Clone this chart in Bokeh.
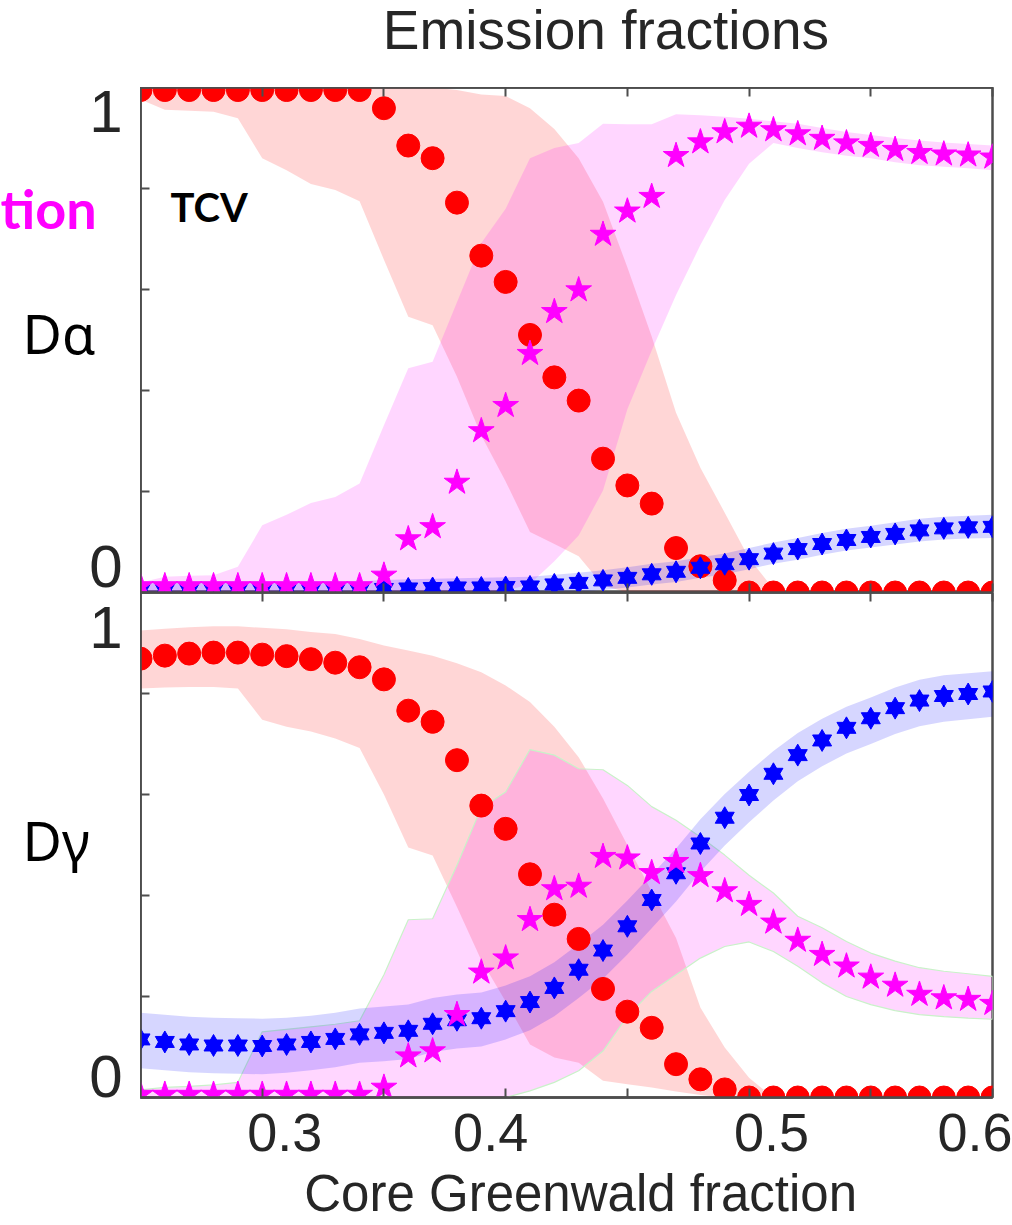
from bokeh.plotting import figure
from bokeh.layouts import column, row
from bokeh.models import Range1d, FixedTicker, LinearAxis, Label
from bokeh.core.properties import value
from bokeh.embed import file_html
from bokeh.resources import INLINE

# ---------------------------------------------------------------- data
# Core Greenwald fraction of each scan point
greenwald = [0.25, 0.26, 0.27, 0.28, 0.29, 0.30, 0.31, 0.32, 0.33, 0.34,
             0.35, 0.36, 0.37, 0.38, 0.39, 0.40, 0.41, 0.42, 0.43, 0.44,
             0.45, 0.46, 0.47, 0.48, 0.49, 0.50, 0.51, 0.52, 0.53, 0.54,
             0.55, 0.56, 0.57, 0.58, 0.59, 0.60]

# D-alpha emission fractions (red = circles, magenta = pentagrams, blue = hexagrams)
da_red = [0.995, 0.995, 0.995, 0.995, 0.995, 0.995, 0.995, 0.995, 0.995, 0.995,
          0.959, 0.885, 0.860, 0.772, 0.667, 0.615, 0.510, 0.426, 0.380, 0.265,
          0.212, 0.176, 0.088, 0.052, 0.024, 0.0, 0.0, 0.0, 0.0, 0.0,
          0.0, 0.0, 0.0, 0.0, 0.0, 0.0]
da_red_lo = [0.976, 0.956, 0.954, 0.952, 0.939, 0.860, 0.836, 0.809, 0.797, 0.775,
             0.659, 0.546, 0.529, 0.427, 0.311, 0.220, 0.120, 0.096, 0.072, 0.014,
             0.0, 0.0, 0.0, 0.0, 0.0, 0.0, 0.0, 0.0, 0.0, 0.0,
             0.0, 0.0, 0.0, 0.0, 0.0, 0.0]
da_red_hi = [1.0, 1.0, 1.0, 1.0, 1.0, 1.0, 1.0, 1.0, 1.0, 1.0,
             1.0, 1.0, 1.0, 0.995, 0.986, 0.983, 0.959, 0.918, 0.860, 0.774,
             0.644, 0.507, 0.356, 0.247, 0.158, 0.068, 0.007, 0.0, 0.0, 0.0,
             0.0, 0.0, 0.0, 0.0, 0.0, 0.0]

da_mag = [0.013, 0.013, 0.013, 0.013, 0.013, 0.013, 0.013, 0.013, 0.013, 0.013,
          0.034, 0.106, 0.130, 0.218, 0.320, 0.370, 0.473, 0.556, 0.599, 0.709,
          0.755, 0.784, 0.865, 0.892, 0.912, 0.923, 0.916, 0.908, 0.899, 0.890,
          0.885, 0.877, 0.871, 0.868, 0.866, 0.862]
da_mag_lo = [0.0, 0.0, 0.0, 0.0, 0.0, 0.0, 0.0, 0.0, 0.0, 0.0,
             0.0, 0.0, 0.0, 0.0, 0.0, 0.003, 0.017, 0.062, 0.113, 0.202,
             0.363, 0.479, 0.589, 0.688, 0.777, 0.849, 0.890, 0.880, 0.872, 0.865,
             0.860, 0.852, 0.846, 0.843, 0.840, 0.836]
da_mag_hi = [0.020, 0.031, 0.033, 0.034, 0.051, 0.133, 0.154, 0.177, 0.189, 0.216,
             0.331, 0.444, 0.457, 0.575, 0.692, 0.760, 0.860, 0.880, 0.890, 0.928,
             0.927, 0.927, 0.947, 0.945, 0.942, 0.938, 0.933, 0.928, 0.920, 0.912,
             0.906, 0.900, 0.895, 0.891, 0.888, 0.885]

da_blue = [0.005, 0.005, 0.005, 0.005, 0.005, 0.005, 0.005, 0.005, 0.005, 0.005,
           0.007, 0.008, 0.009, 0.010, 0.010, 0.011, 0.012, 0.016, 0.019, 0.024,
           0.029, 0.036, 0.041, 0.049, 0.056, 0.066, 0.077, 0.086, 0.096, 0.104,
           0.110, 0.116, 0.123, 0.127, 0.129, 0.130]
da_blue_lo = [0.0, 0.0, 0.0, 0.0, 0.0, 0.0, 0.0, 0.0, 0.0, 0.0,
              0.0, 0.0, 0.0, 0.0, 0.0, 0.0, 0.0, 0.0, 0.001, 0.005,
              0.010, 0.016, 0.021, 0.029, 0.036, 0.046, 0.057, 0.065, 0.075, 0.083,
              0.089, 0.095, 0.101, 0.105, 0.107, 0.108]
da_blue_hi = [0.022, 0.022, 0.022, 0.022, 0.022, 0.022, 0.022, 0.022, 0.022, 0.022,
              0.025, 0.026, 0.027, 0.028, 0.029, 0.030, 0.031, 0.035, 0.039, 0.044,
              0.050, 0.057, 0.062, 0.070, 0.077, 0.088, 0.099, 0.108, 0.118, 0.126,
              0.132, 0.139, 0.146, 0.150, 0.152, 0.154]

# D-gamma emission fractions
dg_red = [0.869, 0.875, 0.879, 0.881, 0.881, 0.877, 0.874, 0.868, 0.861, 0.852,
          0.828, 0.766, 0.744, 0.668, 0.578, 0.532, 0.442, 0.362, 0.314, 0.215,
          0.170, 0.138, 0.066, 0.036, 0.016, 0.0, 0.0, 0.0, 0.0, 0.0,
          0.0, 0.0, 0.0, 0.0, 0.0, 0.0]
dg_red_lo = [0.810, 0.812, 0.813, 0.813, 0.810, 0.748, 0.734, 0.725, 0.711, 0.692,
             0.600, 0.495, 0.479, 0.377, 0.272, 0.190, 0.105, 0.079, 0.069, 0.033,
             0.026, 0.020, 0.012, 0.005, 0.0, 0.0, 0.0, 0.0, 0.0, 0.0,
             0.0, 0.0, 0.0, 0.0, 0.0, 0.0]
dg_red_hi = [0.925, 0.928, 0.931, 0.933, 0.933, 0.930, 0.927, 0.922, 0.918, 0.908,
             0.895, 0.885, 0.875, 0.860, 0.842, 0.816, 0.783, 0.734, 0.674, 0.592,
             0.500, 0.408, 0.316, 0.178, 0.099, 0.039, 0.0, 0.0, 0.0, 0.0,
             0.0, 0.0, 0.0, 0.0, 0.0, 0.0]

dg_mag = [0.006, 0.006, 0.006, 0.006, 0.006, 0.006, 0.006, 0.006, 0.006, 0.006,
          0.020, 0.082, 0.092, 0.164, 0.248, 0.276, 0.352, 0.413, 0.418, 0.477,
          0.474, 0.445, 0.467, 0.439, 0.409, 0.382, 0.347, 0.311, 0.283, 0.260,
          0.238, 0.222, 0.204, 0.197, 0.194, 0.186]
dg_mag_lo = [0.0, 0.0, 0.0, 0.0, 0.0, 0.0, 0.0, 0.0, 0.0, 0.0,
             0.0, 0.0, 0.0, 0.0, 0.0, 0.0, 0.013, 0.030, 0.053, 0.092,
             0.161, 0.210, 0.243, 0.276, 0.299, 0.308, 0.289, 0.260, 0.227, 0.200,
             0.184, 0.172, 0.164, 0.160, 0.157, 0.155]
dg_mag_hi = [0.015, 0.020, 0.022, 0.025, 0.030, 0.130, 0.135, 0.140, 0.145, 0.152,
             0.243, 0.352, 0.354, 0.460, 0.574, 0.605, 0.689, 0.678, 0.651, 0.649,
             0.618, 0.576, 0.549, 0.516, 0.480, 0.440, 0.405, 0.359, 0.336, 0.309,
             0.286, 0.270, 0.257, 0.250, 0.245, 0.240]

dg_blue = [0.115, 0.110, 0.105, 0.103, 0.103, 0.102, 0.105, 0.110, 0.116, 0.125,
           0.128, 0.132, 0.146, 0.153, 0.157, 0.171, 0.189, 0.217, 0.253, 0.291,
           0.339, 0.391, 0.444, 0.503, 0.554, 0.599, 0.641, 0.678, 0.707, 0.732,
           0.751, 0.771, 0.786, 0.795, 0.799, 0.804]
dg_blue_lo = [0.058, 0.054, 0.050, 0.048, 0.047, 0.046, 0.049, 0.054, 0.060, 0.069,
              0.072, 0.076, 0.090, 0.097, 0.101, 0.115, 0.133, 0.161, 0.197, 0.235,
              0.283, 0.335, 0.388, 0.447, 0.499, 0.545, 0.588, 0.626, 0.656, 0.681,
              0.700, 0.720, 0.735, 0.744, 0.749, 0.754]
dg_blue_hi = [0.168, 0.164, 0.160, 0.158, 0.157, 0.156, 0.158, 0.162, 0.168, 0.176,
              0.180, 0.184, 0.197, 0.204, 0.208, 0.222, 0.240, 0.268, 0.304, 0.342,
              0.390, 0.441, 0.493, 0.551, 0.601, 0.645, 0.686, 0.722, 0.750, 0.774,
              0.792, 0.812, 0.827, 0.836, 0.840, 0.844]

x_ticks = [0.3, 0.4, 0.5, 0.6]
x_minor_ticks = [0.35, 0.45, 0.55]
y_ticks = [0, 1]
y_minor_ticks = [0.2, 0.4, 0.6, 0.8]
y_tick_labels = ["1", "0"]

# ---------------------------------------------------------------- styling
RED, MAG, BLUE = "#ff0000", "#ff00ff", "#0000ff"
FRAME = "#4d4d4d"
INK = "#262626"
BAND_ALPHA = 0.16
NBSP = "\u00a0"

X_MIN, X_MAX = 0.25, 0.60
LEFT, RIGHT = 140, 20
FRAME_W, FRAME_H = 852, 505
TOP, BOTTOM = 87, 128
PAGE_H = TOP + 2 * FRAME_H + BOTTOM


def style_ticks(axis, with_labels=False):
    axis.axis_line_color = FRAME
    axis.axis_line_width = 2.5
    axis.major_tick_in = 9
    axis.major_tick_out = 0
    axis.minor_tick_in = 9
    axis.minor_tick_out = 0
    axis.major_tick_line_color = FRAME
    axis.major_tick_line_width = 2
    axis.minor_tick_line_color = FRAME
    axis.minor_tick_line_width = 2
    if not with_labels:
        axis.major_label_text_color = None
        axis.major_label_text_font_size = "1px"
        axis.major_label_standoff = 0


def x_tick_axis():
    ax = LinearAxis(ticker=FixedTicker(ticks=x_ticks, minor_ticks=x_minor_ticks))
    style_ticks(ax)
    return ax


def y_tick_axis():
    ax = LinearAxis(ticker=FixedTicker(ticks=y_ticks, minor_ticks=y_minor_ticks))
    style_ticks(ax)
    return ax


def panel(height, border_bottom):
    p = figure(width=FRAME_W + RIGHT, height=height,
               x_range=Range1d(X_MIN, X_MAX), y_range=Range1d(0, 1),
               x_axis_type=None, y_axis_type=None,
               output_backend="svg", toolbar_location=None,
               min_border_left=0, min_border_right=RIGHT,
               min_border_top=0, min_border_bottom=border_bottom)
    p.outline_line_color = FRAME
    p.outline_line_width = 2.5
    p.border_fill_color = "white"
    p.add_layout(y_tick_axis(), "left")
    p.add_layout(x_tick_axis(), "above")
    return p


def draw_series(p, red, red_lo, red_hi, mag, mag_lo, mag_hi,
                blue, blue_lo, blue_hi, mag_edge=None):
    p.varea(x=greenwald, y1=red_lo, y2=red_hi, fill_color=RED, fill_alpha=BAND_ALPHA)
    if mag_edge is None:
        p.varea(x=greenwald, y1=mag_lo, y2=mag_hi, fill_color=MAG, fill_alpha=BAND_ALPHA)
    else:
        p.patch(x=greenwald + greenwald[::-1], y=mag_lo + mag_hi[::-1],
                fill_color=MAG, fill_alpha=BAND_ALPHA,
                line_color=mag_edge, line_width=1.2)
    p.varea(x=greenwald, y1=blue_lo, y2=blue_hi, fill_color=BLUE, fill_alpha=BAND_ALPHA)

    p.scatter(x=greenwald, y=red, marker="circle", size=23,
              fill_color=RED, line_color=RED)
    # six-pointed stars: an upright and an inverted triangle on the same centre
    p.scatter(x=greenwald, y=blue, marker="triangle", size=19,
              fill_color=BLUE, line_color=BLUE)
    p.scatter(x=greenwald, y=blue, marker="inverted_triangle", size=19,
              fill_color=BLUE, line_color=BLUE)
    p.scatter(x=greenwald, y=mag, marker="star", size=27,
              fill_color=MAG, line_color=MAG)


def text_strip(width, height):
    """A bare canvas whose coordinates are page pixels (y grows downwards)."""
    s = figure(width=width, height=height,
               x_range=Range1d(0, width), y_range=Range1d(height, 0),
               x_axis_type=None, y_axis_type=None,
               output_backend="svg", toolbar_location=None, min_border=0)
    s.outline_line_color = None
    s.border_fill_color = "white"
    return s


def put_text(fig, xs, ys, texts, font, size, color, align="left", bold=False):
    # anchor rows are the glyph baselines; the text box sits a little lower
    # than the alphabetic baseline, hence the small upward shift
    lift = 0.38 * size
    fig.text(x=xs, y=[y - lift for y in ys], text=texts,
             text_font=value(font), text_font_size=f"{size}px",
             text_font_style="bold" if bold else "normal",
             text_color=color, text_align=align, text_baseline="alphabetic")


# ---------------------------------------------------------------- title strip
title = text_strip(FRAME_W + RIGHT, TOP)
put_text(title, [248], [50], ["Emission fractions"], "Liberation Sans", 55, INK)

# ---------------------------------------------------------------- upper panel: D-alpha
top = panel(FRAME_H, 0)
top.add_layout(x_tick_axis(), "below")
draw_series(top, da_red, da_red_lo, da_red_hi, da_mag, da_mag_lo, da_mag_hi,
            da_blue, da_blue_lo, da_blue_hi)
top.add_layout(Label(x=0.2623, y=0.7628, text="TCV",
                     text_font="Lato", text_font_style="bold", text_font_size="40px",
                     text_color="black", text_align="left", text_baseline="alphabetic"))

# ---------------------------------------------------------------- lower panel: D-gamma
bottom = panel(FRAME_H + BOTTOM, BOTTOM)
x_axis = LinearAxis(
    ticker=FixedTicker(ticks=x_ticks, minor_ticks=x_minor_ticks),
    major_label_overrides={0.3: NBSP * 3 + "0.3", 0.4: "0.4" + NBSP * 2,
                           0.5: NBSP * 3 + "0.5", 0.6: "0.6"},
    axis_label=NBSP * 2 + "Core Greenwald fraction")
style_ticks(x_axis, with_labels=True)
x_axis.major_label_text_font = "Liberation Sans"
x_axis.major_label_text_font_size = "54px"
x_axis.major_label_text_color = INK
x_axis.major_label_standoff = 4
x_axis.axis_label_text_font = "Liberation Sans"
x_axis.axis_label_text_font_size = "51px"
x_axis.axis_label_text_font_style = "normal"
x_axis.axis_label_text_color = INK
x_axis.axis_label_standoff = 0
bottom.add_layout(x_axis, "below")

draw_series(bottom, dg_red, dg_red_lo, dg_red_hi, dg_mag, dg_mag_lo, dg_mag_hi,
            dg_blue, dg_blue_lo, dg_blue_hi, mag_edge="#c9f2c9")

# ---------------------------------------------------------------- left strip: row labels and 0/1 marks
side = text_strip(LEFT, PAGE_H)
put_text(side, [122, 122], [134, 589], y_tick_labels, "Liberation Sans", 60, INK, align="right")
put_text(side, [122, 122], [650, 1099], y_tick_labels, "Liberation Sans", 60, INK, align="right")
put_text(side, [0], [229], ["tion"], "Lato", 54, MAG, bold=True)
put_text(side, [22, 22], [353, 860], ["Dα", "Dγ"], "Noto Sans", 54, "black")

page = row(side, column(title, top, bottom))
open("out.html", "w").write(file_html(page, INLINE))
